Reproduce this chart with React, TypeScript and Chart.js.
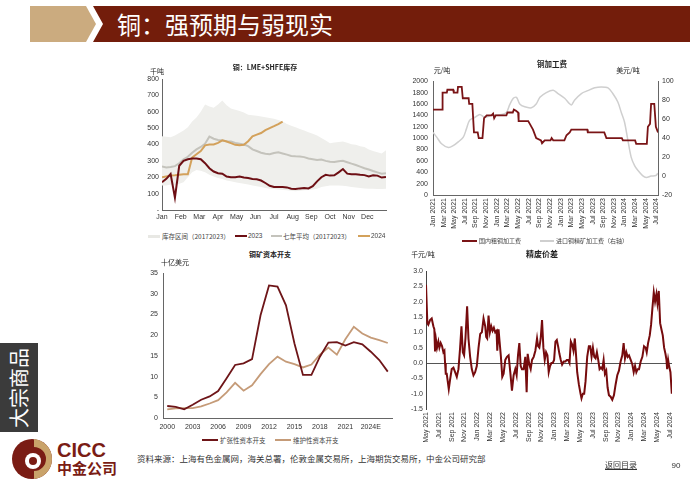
import React, { useEffect, useRef } from "react";
import { Chart, registerables } from "chart.js";

Chart.register(...registerables);

const NUM_FONT = "'Liberation Sans', Arial, sans-serif";
const CJK_FONT = "'Noto Sans CJK SC', 'Noto Sans', sans-serif";
const TICK_COLOR = "#333";

// ---------- Chart A: 铜：LME+SHFE库存 (千吨), weekly ----------
const MONTH_LABELS = ["Jan", "Feb", "Mar", "Apr", "May", "Jun", "Jul", "Aug", "Sep", "Oct", "Nov", "Dec"];
const WEEKS_PER_YEAR = 52;
const INV_RANGE_MAX = [450, 448, 445, 455, 470, 485, 505, 540, 565, 600, 645, 632, 625, 645, 668, 640, 620, 612, 605, 595, 582, 578, 575, 571, 567, 562, 557, 550, 540, 525, 515, 505, 495, 485, 475, 465, 455, 440, 425, 408, 412, 415, 418, 410, 402, 398, 390, 385, 370, 360, 352, 345, 365];
const INV_RANGE_MIN = [150, 150, 155, 150, 160, 170, 200, 230, 245, 240, 230, 215, 205, 195, 190, 180, 175, 170, 165, 160, 155, 150, 145, 140, 135, 130, 128, 125, 122, 120, 118, 115, 118, 120, 122, 125, 130, 140, 145, 150, 150, 150, 148, 145, 140, 138, 135, 132, 130, 130, 128, 128, 130];
const INV_AVG = [265, 260, 262, 268, 285, 310, 325, 350, 370, 385, 405, 448, 435, 428, 425, 420, 418, 410, 405, 400, 390, 370, 360, 350, 343, 340, 348, 352, 345, 338, 330, 328, 327, 323, 315, 310, 305, 308, 300, 295, 293, 298, 300, 292, 283, 275, 265, 255, 247, 238, 230, 222, 225];
const INV_2023 = [170, 190, 220, 75, 270, 300, 310, 315, 315, 310, 286, 255, 235, 225, 222, 204, 200, 200, 205, 198, 195, 190, 188, 180, 165, 148, 140, 140, 140, 138, 130, 128, 132, 135, 132, 145, 175, 200, 215, 210, 212, 230, 250, 222, 218, 218, 215, 213, 205, 212, 210, 198, 202];
const INV_2024 = [200, 205, 210, 212, 215, 218, 218, 320, 340, 360, 395, 400, 400, 410, 425, 418, 408, 398, 395, 398, 420, 450, 460, 470, 488, 500, 512, 525, 540];

// ---------- Chart B: 铜加工费 ----------
const FEE_LABELS = ["Jan 2021", "Mar 2021", "May 2021", "Jul 2021", "Sep 2021", "Nov 2021", "Jan 2022", "Mar 2022", "May 2022", "Jul 2022", "Sep 2022", "Nov 2022", "Jan 2023", "Mar 2023", "May 2023", "Jul 2023", "Sep 2023", "Nov 2023", "Jan 2024", "Mar 2024", "May 2024", "Jul 2024"];
// months since Jan 2021
const DOM_FEE_MONTH = [0, 1.7, 1.8, 2.6, 2.7, 3.8, 3.9, 4.6, 4.7, 5.4, 5.6, 6.7, 6.8, 7.4, 7.7, 8.4, 8.6, 9.3, 9.6, 10.1, 11.0, 11.3, 11.5, 11.8, 12.0, 13.8, 14.0, 15.0, 15.2, 15.6, 16.0, 16.1, 17.9, 18.2, 18.8, 19.4, 20.3, 20.5, 21.0, 22.1, 22.3, 22.6, 24.7, 25.1, 25.7, 26.0, 29.0, 29.1, 32.2, 32.6, 35.5, 35.7, 38.0, 38.2, 40.2, 40.4, 40.8, 41.0, 41.6, 41.9, 42.3];
const DOM_FEE = [1500, 1500, 1800, 1800, 1850, 1850, 1800, 1800, 1900, 1900, 1700, 1700, 1600, 1600, 1100, 1100, 1000, 1000, 1350, 1400, 1400, 1430, 1350, 1400, 1400, 1400, 1450, 1450, 1500, 1480, 1450, 1300, 1300, 1250, 1150, 1000, 960, 910, 960, 960, 1000, 960, 960, 1050, 1100, 1150, 1150, 1100, 1100, 1000, 1000, 960, 960, 900, 900, 1200, 1250, 1600, 1600, 1200, 1100];
const TC_MONTH = [0, 0.7, 1.6, 2.9, 3.8, 4.75, 5.7, 6.3, 6.9, 7.9, 8.8, 9.75, 11.0, 12.9, 13.8, 14.4, 15.1, 15.7, 16.3, 17.25, 18.5, 19.4, 20.1, 21.3, 22.6, 23.5, 24.75, 26.0, 26.6, 27.9, 29.1, 30.4, 31.6, 32.9, 33.8, 34.75, 35.4, 36.0, 36.6, 37.25, 37.9, 38.5, 39.4, 40.1, 41.0, 41.9, 42.25];
const TC = [46, 41, 34, 30, 32, 36, 41, 50, 59, 62, 65, 62, 64, 65, 67, 75, 82, 83, 76, 73, 72, 76, 83, 88, 90.5, 87, 82, 75, 80, 87, 90, 93, 94, 93, 87, 78, 67, 57, 39, 20, 11, 6, 0.5, -1.5, 0, 0.5, 3];

// ---------- Chart C: 铜矿资本开支 (十亿美元) ----------
const CAPEX_YEARS = ["2000", "2001", "2002", "2003", "2004", "2005", "2006", "2007", "2008", "2009", "2010", "2011", "2012", "2013", "2014", "2015", "2016", "2017", "2018", "2019", "2020", "2021", "2022", "2023", "2024E", "2025E", "2026E"];
const CAPEX_EXPANSION = [2.9, 2.7, 2.1, 3.2, 4.4, 5.2, 6.5, 9.6, 12.8, 13.2, 14.2, 24.8, 32.0, 31.7, 27.2, 18.0, 10.4, 10.4, 14.8, 18.2, 18.3, 17.5, 18.3, 17.8, 16.0, 14.0, 11.2];
const CAPEX_MAINTENANCE = [2.1, 2.3, 2.4, 2.4, 2.8, 3.5, 4.3, 6.2, 8.5, 6.6, 7.9, 10.6, 13.0, 14.8, 13.6, 13.0, 12.2, 12.9, 15.3, 17.0, 15.3, 19.0, 22.0, 20.4, 19.4, 18.8, 18.1];

// ---------- Chart D: 精废价差 (千元/吨) ----------
const SPREAD_LABELS = ["May 2021", "Jul 2021", "Sep 2021", "Nov 2021", "Jan 2022", "Mar 2022", "May 2022", "Jul 2022", "Sep 2022", "Nov 2022", "Jan 2023", "Mar 2023", "May 2023", "Jul 2023", "Sep 2023", "Nov 2023", "Jan 2024", "Mar 2024", "May 2024", "Jul 2024"];
// months since May 2021
const SPREAD_MONTH = [0, 0.21, 0.36, 0.63, 0.89, 1.15, 1.30, 1.41, 1.56, 1.72, 1.93, 2.09, 2.29, 2.50, 2.71, 2.87, 2.97, 3.08, 3.23, 3.39, 3.55, 3.75, 4.01, 4.28, 4.54, 4.80, 5.06, 5.32, 5.53, 5.74, 5.94, 6.15, 6.41, 6.62, 6.88, 7.14, 7.40, 7.66, 7.92, 8.19, 8.45, 8.71, 8.97, 9.23, 9.38, 9.54, 9.75, 9.96, 10.17, 10.38, 10.58, 10.79, 11.00, 11.11, 11.31, 11.47, 11.68, 11.89, 12.10, 12.36, 12.62, 12.88, 13.14, 13.40, 13.66, 13.92, 14.13, 14.34, 14.55, 14.76, 14.96, 15.22, 15.48, 15.69, 15.85, 16.11, 16.32, 16.53, 16.79, 17.05, 17.31, 17.47, 17.67, 17.88, 18.09, 18.30, 18.51, 18.72, 18.93, 19.13, 19.34, 19.55, 19.76, 19.97, 20.18, 20.39, 20.59, 20.80, 21.01, 21.22, 21.48, 21.74, 21.95, 22.16, 22.37, 22.58, 22.78, 22.99, 23.20, 23.36, 23.57, 23.83, 24.09, 24.24, 24.45, 24.66, 24.87, 25.13, 25.39, 25.60, 25.81, 26.02, 26.23, 26.43, 26.64, 26.85, 27.06, 27.27, 27.48, 27.69, 27.89, 28.10, 28.31, 28.52, 28.78, 29.04, 29.30, 29.56, 29.82, 30.08, 30.34, 30.60, 30.81, 31.02, 31.23, 31.44, 31.65, 31.91, 32.17, 32.38, 32.59, 32.79, 33.00, 33.21, 33.47, 33.73, 33.99, 34.25, 34.41, 34.62, 34.88, 35.09, 35.30, 35.51, 35.71, 35.92, 36.08, 36.29, 36.50, 36.70, 36.91, 37.12, 37.33, 37.49, 37.59, 37.75, 37.90, 38.11, 38.32];
const SPREAD = [2.55, 1.3, 1.25, 1.4, 1.45, 1.2, 1.1, 0.38, 0.75, 0.5, 0.7, 0.5, 0.65, 0.55, 0.35, 0.4, 0.0, -0.35, -0.35, -0.6, -0.85, -0.55, -0.2, -0.15, -0.3, -0.45, -0.2, 0.5, 1.2, 0.35, 0.25, 0.8, 1.85, 0.8, 0.2, -0.2, -0.4, -0.3, -0.1, 0.5, 0.95, 1.0, 1.45, 1.2, 0.85, 0.8, 1.55, 1.0, 1.2, 1.05, 1.15, 1.0, 1.05, 0.4, 1.1, 0.7, 0.2, -0.45, -0.35, 0.1, 0.2, 0.25, -0.3, -0.9, -0.4, -0.2, -0.4, 0.25, 0.65, -0.1, -0.2, -0.2, 0.2, -0.95, 0.3, -0.05, -0.2, 0.1, 0.2, 0.4, 0.8, 0.55, 0.5, 0.8, 1.4, 0.5, 0.1, 0.35, 0.25, -0.3, -0.1, 0.0, 0.0, 0.1, 0.7, 0.75, 0.55, 0.3, 0.1, -0.05, 0.05, 0.05, 0.1, 0.1, 0.0, 0.7, 0.6, 0.4, 0.8, 0.35, -0.3, -0.7, -1.0, -1.15, -1.0, -1.0, -0.6, 0.2, 0.55, 0.55, 0.2, 0.5, 0.2, 0.15, 0.35, 0.1, -0.2, -0.15, -0.2, 0.1, -0.35, -0.25, -0.8, -1.05, -1.1, -1.2, -1.05, -0.7, -0.4, -0.25, 0.05, 0.25, 0.65, 0.15, 0.35, 0.2, 0.25, 0.1, -0.05, -0.3, -0.1, -0.3, -0.2, -0.2, 0.05, 0.2, 0.55, 0.5, 0.35, 0.65, 0.9, 1.25, 1.8, 2.3, 2.0, 2.25, 1.95, 2.35, 1.3, 1.1, 0.9, 0.5, 0.3, 0.1, -0.2, 0.1, -0.1, -0.3, -1.0];

const toXY = (xs: number[], ys: number[]) => xs.map((x, i) => ({ x, y: ys[i] }));
const weekly = (ys: number[]) => ys.map((y, i) => ({ x: i, y }));
const tickFont = { family: NUM_FONT, size: 7 };
const fixW = (w: number) => (s: any) => { s.width = w; };
const fixH = (h: number) => (s: any) => { s.height = h; };
const plain = (v: any) => String(v);
const NO_GRID = { display: false, drawTicks: false };
const baseOpts = {
  responsive: false,
  animation: false as const,
  events: [] as any[],
  plugins: { legend: { display: false }, tooltip: { enabled: false }, title: { display: false } },
};

function configA(): any {
  return {
    type: "line",
    data: {
      datasets: [
        { data: weekly(INV_2023), borderColor: "#6d0f14", borderWidth: 2, pointRadius: 0, order: 0 },
        { data: weekly(INV_2024), borderColor: "#d3a15b", borderWidth: 2, pointRadius: 0, order: 1 },
        { data: weekly(INV_AVG), borderColor: "#c4c3bc", borderWidth: 2, pointRadius: 0, order: 2 },
        { data: weekly(INV_RANGE_MAX), borderColor: "rgba(0,0,0,0)", borderWidth: 0, backgroundColor: "#efefec", fill: "+1", pointRadius: 0, order: 10 },
        { data: weekly(INV_RANGE_MIN), borderColor: "rgba(0,0,0,0)", borderWidth: 0, fill: false, pointRadius: 0, order: 11 },
      ],
    },
    options: {
      ...baseOpts,
      layout: { padding: { top: 9, right: 14, left: 0, bottom: 0 } },
      scales: {
        x: {
          type: "linear", min: 0, max: WEEKS_PER_YEAR,
          afterFit: fixH(17),
          afterBuildTicks: (s: any) => { s.ticks = MONTH_LABELS.map((_, m) => ({ value: (m * WEEKS_PER_YEAR) / 12 })); },
          ticks: { autoSkip: false, maxRotation: 0, font: tickFont, color: TICK_COLOR, padding: 3, callback: (_v: any, i: number) => MONTH_LABELS[i] },
          grid: NO_GRID,
          border: { color: "#666" },
        },
        y: {
          min: 0, max: 800,
          afterFit: fixW(22),
          ticks: { autoSkip: false, stepSize: 100, font: tickFont, color: TICK_COLOR, padding: 3, callback: (v: any) => (v === 0 ? "-" : String(v)) },
          grid: NO_GRID,
          border: { color: "#666" },
        },
      },
    },
  };
}

function configB(): any {
  return {
    type: "line",
    data: {
      datasets: [
        { data: toXY(DOM_FEE_MONTH, DOM_FEE), yAxisID: "y", borderColor: "#7a1416", borderWidth: 1.8, pointRadius: 0, order: 0 },
        { data: toXY(TC_MONTH, TC), yAxisID: "y1", borderColor: "#cfcfcf", borderWidth: 1.5, pointRadius: 0, tension: 0.3, order: 1 },
      ],
    },
    options: {
      ...baseOpts,
      layout: { padding: { top: 9, right: 10, left: 0, bottom: 0 } },
      scales: {
        x: {
          type: "linear", min: 0, max: 42.3,
          afterFit: fixH(37),
          afterBuildTicks: (s: any) => { s.ticks = FEE_LABELS.map((_, i) => ({ value: i * 2 })); },
          ticks: { autoSkip: false, minRotation: 90, maxRotation: 90, font: tickFont, color: TICK_COLOR, padding: 3, callback: (_v: any, i: number) => FEE_LABELS[i] },
          grid: NO_GRID,
          border: { color: "#666" },
        },
        y: {
          position: "left", min: 0, max: 2000,
          afterFit: fixW(38),
          ticks: { autoSkip: false, stepSize: 200, font: tickFont, color: TICK_COLOR, padding: 5, callback: plain },
          grid: NO_GRID,
          border: { color: "#666" },
        },
        y1: {
          position: "right", min: -20, max: 100,
          afterFit: fixW(27),
          ticks: { autoSkip: false, stepSize: 20, font: tickFont, color: TICK_COLOR, padding: 4, callback: plain },
          grid: NO_GRID,
          border: { color: "#666" },
        },
      },
    },
  };
}

function configC(): any {
  return {
    type: "line",
    data: {
      labels: CAPEX_YEARS,
      datasets: [
        { data: CAPEX_EXPANSION, borderColor: "#6e1518", borderWidth: 1.8, pointRadius: 0, order: 0 },
        { data: CAPEX_MAINTENANCE, borderColor: "#c59b78", borderWidth: 1.8, pointRadius: 0, order: 1 },
      ],
    },
    options: {
      ...baseOpts,
      layout: { padding: { top: 11, right: 8, left: 0, bottom: 0 } },
      scales: {
        x: {
          offset: true,
          afterFit: fixH(14),
          ticks: { autoSkip: false, maxRotation: 0, font: tickFont, color: TICK_COLOR, padding: 5, callback: (_v: any, i: number) => (i % 3 === 0 ? CAPEX_YEARS[i] : "") },
          grid: NO_GRID,
          border: { color: "#666" },
        },
        y: {
          min: 0, max: 35,
          afterFit: fixW(23),
          ticks: { autoSkip: false, stepSize: 5, font: tickFont, color: TICK_COLOR, padding: 5, callback: plain },
          grid: NO_GRID,
          border: { color: "#666" },
        },
      },
    },
  };
}

function configD(): any {
  return {
    type: "line",
    data: {
      datasets: [
        { data: toXY(SPREAD_MONTH, SPREAD), borderColor: "#760b0d", borderWidth: 2, pointRadius: 0, order: 0 },
      ],
    },
    options: {
      ...baseOpts,
      layout: { padding: { top: 9, right: 13, left: 0, bottom: 0 } },
      scales: {
        x: {
          type: "linear", min: 0, max: 38.35,
          afterFit: fixH(33),
          afterBuildTicks: (s: any) => { s.ticks = SPREAD_LABELS.map((_, i) => ({ value: i * 2 })); },
          ticks: { autoSkip: false, minRotation: 90, maxRotation: 90, font: tickFont, color: TICK_COLOR, padding: 3, callback: (_v: any, i: number) => SPREAD_LABELS[i] },
          grid: NO_GRID,
          border: { display: false },
        },
        y: {
          min: -1.5, max: 3.0,
          afterFit: fixW(31),
          ticks: { autoSkip: false, stepSize: 0.5, font: tickFont, color: TICK_COLOR, padding: 3, callback: (v: any) => Number(v).toFixed(1) },
          grid: { drawTicks: false, lineWidth: 1, color: (ctx: any) => (ctx.tick && Math.abs(ctx.tick.value) < 1e-9 ? "#555" : "rgba(0,0,0,0)") },
          border: { color: "#444" },
        },
      },
    },
  };
}

function ChartBox({ left, top, width, height, make }: { left: number; top: number; width: number; height: number; make: () => any }) {
  const ref = useRef<HTMLCanvasElement>(null);
  useEffect(() => {
    if (!ref.current) return;
    const chart = new Chart(ref.current, make());
    return () => chart.destroy();
  }, []);
  return (
    <canvas ref={ref} width={width} height={height} style={{ position: "absolute", left, top, width, height }} />
  );
}

function Txt({ x, y, size, children, bold, color, anchor, family }: any) {
  const tx = anchor === "left" ? "0" : anchor === "right" ? "-100%" : "-50%";
  return (
    <div
      style={{
        position: "absolute", left: x, top: y, transform: `translate(${tx}, -50%)`,
        fontSize: size, fontWeight: bold ? 700 : 400, color: color || "#222",
        fontFamily: family || CJK_FONT, whiteSpace: "nowrap", lineHeight: 1,
      }}
    >
      {children}
    </div>
  );
}

function LegendLine({ x1, x2, y, color, h }: any) {
  return <div style={{ position: "absolute", left: x1, top: y - (h || 2) / 2, width: x2 - x1, height: h || 2, background: color }} />;
}

export default function App() {
  return (
    <div style={{ position: "fixed", left: 0, top: 0, width: 700, height: 490, background: "#fff", overflow: "hidden", fontFamily: CJK_FONT }}>
      {/* header */}
      <div style={{ position: "absolute", left: 30, top: 6, width: 66, height: 36, background: "#cbab7f", clipPath: "polygon(0 0, 56px 0, 66px 18px, 56px 36px, 0 36px)" }} />
      <div style={{ position: "absolute", left: 93, top: 6, width: 597, height: 36, background: "#731d0b", clipPath: "polygon(0 0, 597px 0, 597px 36px, 0 36px, 10px 18px)" }} />
      <Txt x={117} y={24} size={24} color="#fff" anchor="left">铜：强预期与弱现实</Txt>

      {/* charts */}
      <ChartBox left={140} top={70} width={260} height={157} make={configA} />
      <ChartBox left={395} top={72} width={300} height={160} make={configB} />
      <ChartBox left={140} top={262} width={260} height={170} make={configC} />
      <ChartBox left={395} top={262} width={290} height={180} make={configD} />

      {/* chart A texts */}
      <Txt x={265} y={67} size={7} bold>铜：LME+SHFE库存</Txt>
      <Txt x={157} y={71} size={7}>千吨</Txt>
      <LegendLine x1={148} x2={160} y={236} color="#e8e8e4" h={3} />
      <Txt x={162} y={236} size={6.5} color="#444" anchor="left">库存区间（20172023）</Txt>
      <LegendLine x1={235} x2={247} y={236} color="#6d0f14" />
      <Txt x={248} y={236} size={6.5} color="#444" anchor="left" family={NUM_FONT}>2023</Txt>
      <LegendLine x1={271} x2={282} y={236} color="#c4c3bc" />
      <Txt x={283} y={236} size={6.5} color="#444" anchor="left">七年平均（20172023）</Txt>
      <LegendLine x1={358} x2={370} y={236} color="#d3a15b" />
      <Txt x={371} y={236} size={6.5} color="#444" anchor="left" family={NUM_FONT}>2024</Txt>

      {/* chart B texts */}
      <Txt x={552} y={64} size={7.5} bold>铜加工费</Txt>
      <Txt x={442} y={70} size={7}>元/吨</Txt>
      <Txt x={628} y={70} size={7}>美元/吨</Txt>
      <LegendLine x1={462} x2={477} y={241} color="#7a1416" />
      <Txt x={479} y={241} size={6} color="#444" anchor="left">国内粗铜加工费</Txt>
      <LegendLine x1={540} x2={554} y={241} color="#cfcfcf" />
      <Txt x={556} y={241} size={6} color="#444" anchor="left">进口铜精矿加工费（右轴）</Txt>

      {/* chart C texts */}
      <Txt x={270} y={254} size={7} bold>铜矿资本开支</Txt>
      <Txt x={175} y={262} size={7}>十亿美元</Txt>
      <LegendLine x1={202} x2={218} y={440} color="#6e1518" />
      <Txt x={220} y={440} size={6.5} color="#444" anchor="left">扩张性资本开支</Txt>
      <LegendLine x1={275} x2={291} y={440} color="#c59b78" />
      <Txt x={293} y={440} size={6.5} color="#444" anchor="left">维护性资本开支</Txt>

      {/* chart D texts */}
      <Txt x={542} y={254} size={8} bold>精废价差</Txt>
      <Txt x={423} y={254} size={7}>千元/吨</Txt>

      {/* sidebar */}
      <div style={{ position: "absolute", left: 0, top: 343, width: 38, height: 89, background: "#3b3b3b" }} />
      <div style={{ position: "absolute", left: 19, top: 388, transform: "translate(-50%, -50%) rotate(-90deg)", color: "#fff", fontSize: 20, whiteSpace: "nowrap", lineHeight: 1 }}>大宗商品</div>

      {/* logo */}
      <svg width={42} height={42} viewBox="0 0 42 42" style={{ position: "absolute", left: 11, top: 438 }}>
        <circle cx={21} cy={21} r={20} fill="#7a1c14" />
        <path d="M23 1.1 A20 20 0 0 1 41 21 A20 20 0 0 1 23 40.9 L23 33 A12 12 0 0 0 23 9 Z" fill="#c9a36a" />
        <circle cx={22} cy={23} r={8} fill="#fff" />
        <circle cx={22} cy={23} r={4} fill="#7a1c14" />
      </svg>
      <Txt x={57} y={450} size={20} bold color="#7a1c14" anchor="left" family={NUM_FONT}>CICC</Txt>
      <Txt x={57} y={467} size={15} bold color="#7a1c14" anchor="left">中金公司</Txt>

      {/* footer */}
      <Txt x={137} y={458} size={8.5} color="#333" anchor="left">资料来源：上海有色金属网，海关总署，伦敦金属交易所，上海期货交易所，中金公司研究部</Txt>
      <div style={{ position: "absolute", left: 605, top: 461, fontSize: 8, color: "#333", textDecoration: "underline", whiteSpace: "nowrap", lineHeight: 1 }}>返回目录</div>
      <Txt x={676} y={466} size={8} color="#333" family={NUM_FONT}>90</Txt>
    </div>
  );
}
